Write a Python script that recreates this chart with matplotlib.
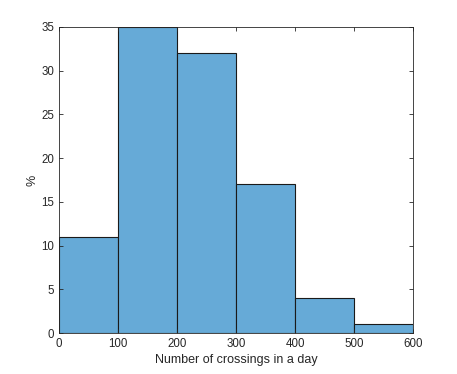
import numpy as np
from matplotlib import pyplot as plt

# Histogram of daily crossings (percent per bin)
bin_edges = [0, 100, 200, 300, 400, 500, 600]
percents = [11, 35, 32, 17, 4, 1]

plt.rcParams['font.family'] = ['Liberation Sans', 'DejaVu Sans']

fig = plt.figure(figsize=(4.57, 3.74), dpi=100)
ax = fig.add_axes([0.129, 0.1096, 0.775, 0.8184])

lefts = np.array(bin_edges[:-1])
widths = np.diff(bin_edges)
ax.bar(lefts, percents, width=widths, align='edge',
       color='#66aad7', edgecolor='#1a1a1a', linewidth=0.8)

ax.set_xlim(0, 600)
ax.set_ylim(0, 35)
ax.set_xticks(range(0, 601, 100))
ax.set_yticks(range(0, 36, 5))
ax.tick_params(direction='in', top=True, right=True, labelsize=8.3,
               length=3, width=0.6, color='#262626', labelcolor='#262626')
for s in ax.spines.values():
    s.set_color('#262626')
    s.set_linewidth(0.6)

ax.set_xlabel('Number of crossings in a day', fontsize=9, color='#262626',
              labelpad=3)
ax.set_ylabel('%', fontsize=9, color='#262626', labelpad=2)

fig.savefig('out.png', dpi=100)
